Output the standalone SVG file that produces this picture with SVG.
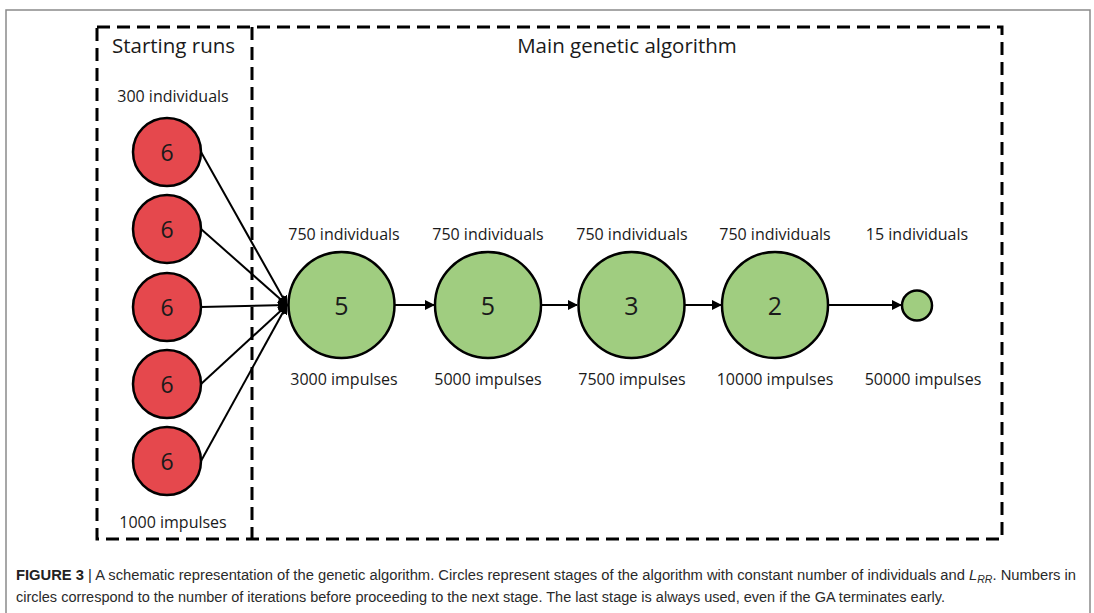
<svg xmlns="http://www.w3.org/2000/svg" width="1094" height="613" viewBox="0 0 1094 613">
<defs>
<style>
.lbl{font-family:"Open Sans","Liberation Sans",sans-serif;font-size:16px;fill:#1a1a1a;text-anchor:middle}
.title{font-family:"Open Sans","Liberation Sans",sans-serif;font-size:20.5px;fill:#1a1a1a}
.num{font-family:"Open Sans","Liberation Sans",sans-serif;fill:#1a1a1a;text-anchor:middle;dominant-baseline:central}
.red{fill:#E5484D;stroke:#000;stroke-width:2.5}
.green{fill:#A0CD80;stroke:#000;stroke-width:2.5}
.dash{fill:none;stroke:#000;stroke-width:3;stroke-dasharray:13 7}
.con{stroke:#000;stroke-width:2;fill:none;marker-end:url(#ah)}
.cap{font-family:"Liberation Sans Narrow","Liberation Sans",Arial,sans-serif;font-size:14px;fill:#2a2a2a}
</style>
<marker id="ah" viewBox="0 0 10 10" refX="9" refY="5" markerWidth="5" markerHeight="5" orient="auto" markerUnits="strokeWidth">
<path d="M0,0 L10,5 L0,10 z" fill="#000"/>
</marker>
</defs>
<rect width="1094" height="613" fill="#fff"/>
<path d="M6,620 V10 H1090 V620" fill="none" stroke="#8a8a8a" stroke-width="1.5"/>
<g id="frames">
<rect class="dash" x="97" y="27" width="905" height="512"/>
<line class="dash" x1="252" y1="27" x2="252" y2="539"/>
<text class="title" x="112" y="53">Starting runs</text>
<text class="title" x="627" y="53" text-anchor="middle">Main genetic algorithm</text>
<text class="lbl" x="173" y="102">300 individuals</text>
<text class="lbl" x="173" y="528">1000 impulses</text>
</g>
<g id="connectors">
<line class="con" x1="201" y1="152" x2="287" y2="305"/>
<line class="con" x1="201" y1="229" x2="287" y2="305"/>
<line class="con" x1="201" y1="307" x2="287" y2="305"/>
<line class="con" x1="201" y1="384" x2="287" y2="305"/>
<line class="con" x1="201" y1="461" x2="287" y2="305"/>
<line class="con" x1="395" y1="305" x2="434" y2="305"/>
<line class="con" x1="542" y1="305" x2="577" y2="305"/>
<line class="con" x1="685" y1="305" x2="721" y2="305"/>
<line class="con" x1="829" y1="305" x2="901" y2="305"/>
</g>
<g id="r1"><circle class="red" cx="167" cy="152" r="34"/><text class="num" x="167" y="152" font-size="23">6</text></g>
<g id="r2"><circle class="red" cx="167" cy="229" r="34"/><text class="num" x="167" y="229" font-size="23">6</text></g>
<g id="r3"><circle class="red" cx="167" cy="307" r="34"/><text class="num" x="167" y="307" font-size="23">6</text></g>
<g id="r4"><circle class="red" cx="167" cy="384" r="34"/><text class="num" x="167" y="384" font-size="23">6</text></g>
<g id="r5"><circle class="red" cx="167" cy="461" r="34"/><text class="num" x="167" y="461" font-size="23">6</text></g>
<g id="g1"><text class="lbl" x="344" y="240">750 individuals</text><circle class="green" cx="341.5" cy="305" r="53"/><text class="num" x="341.5" y="305" font-size="25">5</text><text class="lbl" x="344" y="385">3000 impulses</text></g>
<g id="g2"><text class="lbl" x="488" y="240">750 individuals</text><circle class="green" cx="488" cy="305" r="53"/><text class="num" x="488" y="305" font-size="25">5</text><text class="lbl" x="488" y="385">5000 impulses</text></g>
<g id="g3"><text class="lbl" x="632" y="240">750 individuals</text><circle class="green" cx="631.5" cy="305" r="53"/><text class="num" x="631.5" y="305" font-size="25">3</text><text class="lbl" x="632" y="385">7500 impulses</text></g>
<g id="g4"><text class="lbl" x="775" y="240">750 individuals</text><circle class="green" cx="775" cy="305" r="53"/><text class="num" x="775" y="305" font-size="25">2</text><text class="lbl" x="775" y="385">10000 impulses</text></g>
<g id="g5"><text class="lbl" x="917" y="240">15 individuals</text><circle class="green" cx="917" cy="305.5" r="15"/><text class="lbl" x="923" y="385">50000 impulses</text></g>
<g id="caption">
<text class="cap" x="16" y="580" textLength="1060" lengthAdjust="spacingAndGlyphs"><tspan font-weight="bold" fill="#222">FIGURE 3</tspan> | A schematic representation of the genetic algorithm. Circles represent stages of the algorithm with constant number of individuals and <tspan font-style="italic">L</tspan><tspan font-style="italic" font-size="10" dy="3">RR</tspan><tspan dy="-3">. Numbers in</tspan></text>
<text class="cap" x="16" y="602" textLength="929" lengthAdjust="spacingAndGlyphs">circles correspond to the number of iterations before proceeding to the next stage. The last stage is always used, even if the GA terminates early.</text>
</g>
</svg>
